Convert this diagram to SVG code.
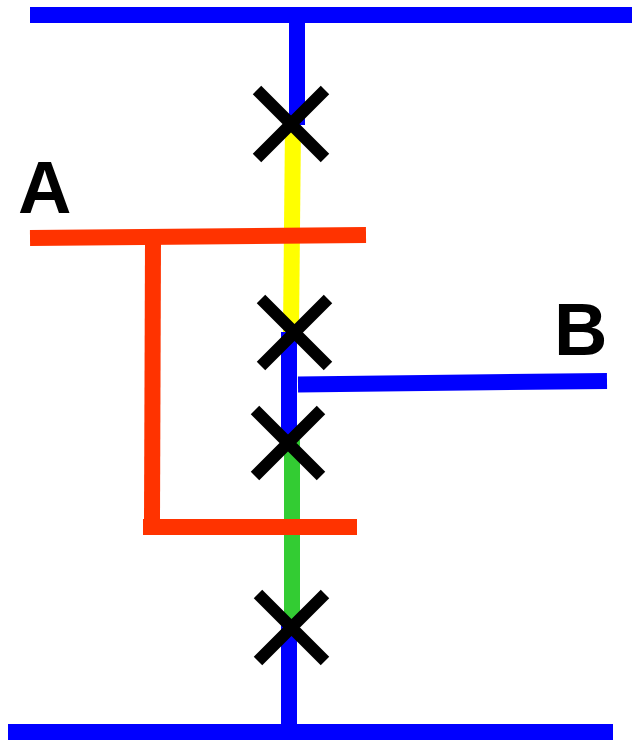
<svg xmlns="http://www.w3.org/2000/svg" width="632" height="740" viewBox="0 0 632 740">
<style>
.l{fill:none;stroke-width:16;stroke-linecap:butt}
.blue{stroke:#0000ff}
.red{stroke:#ff3300}
.yellow{stroke:#ffff00}
.green{stroke:#33cc33}
.x{fill:none;stroke:#000;stroke-width:12}
.lbl{font-family:"Liberation Sans",Arial,sans-serif;font-weight:bold;font-size:74px;fill:#000}
</style>
<rect width="632" height="740" fill="#fff"/>
<g id="connectors">
<line class="l blue" x1="30" y1="15" x2="632" y2="15"/>
<line class="l blue" x1="8" y1="732" x2="613" y2="732"/>
<line class="l blue" x1="297" y1="15" x2="297" y2="125"/>
<line class="l yellow" x1="293" y1="125" x2="291" y2="332"/>
<line class="l blue" x1="289" y1="332" x2="289" y2="440"/>
<line class="l green" x1="292" y1="440" x2="292" y2="622"/>
<line class="l blue" x1="289" y1="622" x2="289" y2="725"/>
<line class="l blue" x1="298" y1="384.5" x2="607" y2="381"/>
<line class="l red" x1="30" y1="238" x2="366" y2="235"/>
<line class="l red" x1="153" y1="240" x2="152" y2="519"/>
<line class="l red" x1="143" y1="527" x2="357" y2="527"/>
</g>
<g id="x1"><path class="x" d="M257,90 L325,158 M325,90 L257,158"/></g>
<g id="x2"><path class="x" d="M261,299 L328,366 M328,299 L261,366"/></g>
<g id="x3"><path class="x" d="M255,410 L321,476 M321,410 L255,476"/></g>
<g id="x4"><path class="x" d="M258,594 L325,661 M325,594 L258,661"/></g>
<g id="labelA"><text class="lbl" x="18" y="213">A</text></g>
<g id="labelB"><text class="lbl" x="554" y="355">B</text></g>
</svg>
